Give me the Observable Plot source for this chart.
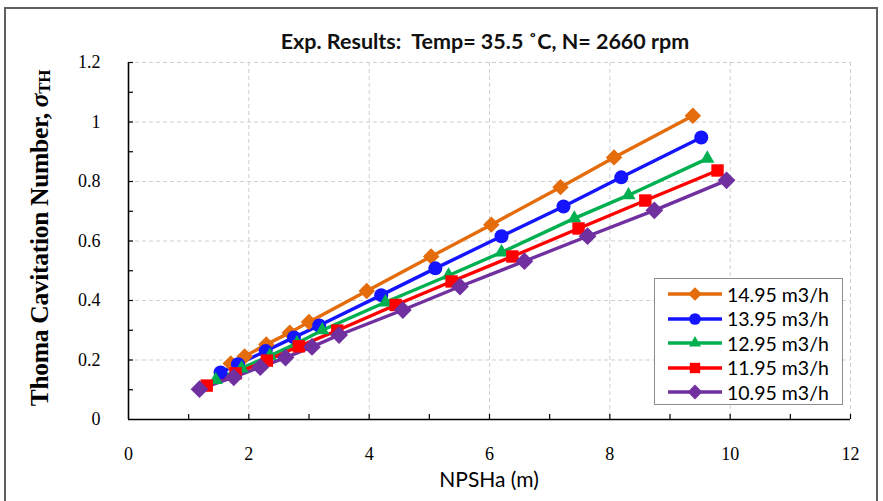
<!DOCTYPE html>
<html>
<head>
<meta charset="utf-8">
<script src="https://cdn.jsdelivr.net/npm/d3@7"></script>
<script src="https://cdn.jsdelivr.net/npm/@observablehq/plot@0.6"></script>
<style>
  body { margin: 0; background: #fff; }
  #wrap { position: relative; width: 883px; height: 501px; overflow: hidden; background: #fff; }
  #frame { position: absolute; left: 4px; top: 7px; width: 874px; height: 600px; border: 2px solid #5f5f5f; box-sizing: border-box; }
  #chart { position: absolute; left: 0; top: 0; }
  #title { position: absolute; left: 235px; width: 500px; top: 28px; text-align: center; font-family: Lato, sans-serif; font-size: 21.5px; font-weight: bold; color: #111; white-space: pre; letter-spacing: 0px; }
  #xlabel { position: absolute; left: 389px; width: 200px; top: 466px; text-align: center; font-family: Lato, sans-serif; font-size: 21px; color: #000; }
  #ylabel { position: absolute; left: -160px; top: 222px; width: 400px; height: 32px; line-height: 32px; text-align: center; transform: rotate(-90deg); font-family: "Liberation Serif", serif; font-weight: bold; font-size: 25.5px; color: #000; white-space: nowrap; letter-spacing: -0.3px; }
  #ylabel .sig { font-style: italic; }
  #ylabel .sub { font-size: 17px; position: relative; top: 2px; }
  #legend { position: absolute; left: 654px; top: 278px; width: 189px; height: 127px; border: 1px solid #8c8c8c; background: #fff; box-sizing: border-box; padding-top: 3px; }
  .row { display: flex; align-items: center; height: 24.5px; padding-left: 12px; }
  .row svg { display: block; }
  .row span { font-family: Lato, sans-serif; font-size: 19.5px; color: #000; margin-left: 4px; }
</style>
</head>
<body>
<div id="wrap">
  <div id="frame"></div>
  <div id="chart"></div>
  <div id="title">Exp. Results:  Temp= 35.5 ˚C, N= 2660 rpm</div>
  <div id="xlabel">NPSHa (m)</div>
  <div id="ylabel">Thoma Cavitation Number, <span class="sig">σ</span><span class="sub">TH</span></div>
  <div id="legend"></div>
</div>
<script>
// ---- data ----
const seriesNames = ["14.95 m3/h", "13.95 m3/h", "12.95 m3/h", "11.95 m3/h", "10.95 m3/h"];
const seriesColors = ["#E46C0A", "#1414FF", "#00B050", "#FF0000", "#7030A0"];
const seriesSymbols = ["diamond2", "circle", "triangle2", "square2", "diamond2"];
const seriesSizes = [7.4, 7.0, 6.8, 7.9, 8.0];

const npsh_1495 = [1.70, 1.93, 2.29, 2.68, 3.00, 3.96, 5.03, 6.03, 7.18, 8.07, 9.38];
const sigma_1495 = [0.188, 0.212, 0.252, 0.292, 0.328, 0.432, 0.548, 0.655, 0.781, 0.881, 1.021];
const npsh_1395 = [1.53, 1.82, 2.28, 2.75, 3.17, 4.20, 5.10, 6.20, 7.23, 8.19, 9.52];
const sigma_1395 = [0.158, 0.186, 0.230, 0.276, 0.316, 0.418, 0.508, 0.616, 0.716, 0.814, 0.948];
const npsh_1295 = [1.45, 1.88, 2.35, 2.80, 3.22, 4.27, 5.32, 6.20, 7.41, 8.31, 9.62];
const sigma_1295 = [0.133, 0.172, 0.214, 0.256, 0.300, 0.394, 0.484, 0.562, 0.676, 0.754, 0.877];
const npsh_1195 = [1.30, 1.78, 2.30, 2.83, 3.47, 4.44, 5.37, 6.38, 7.48, 8.59, 9.79];
const sigma_1195 = [0.114, 0.155, 0.198, 0.246, 0.299, 0.385, 0.464, 0.548, 0.642, 0.736, 0.837];
const npsh_1095 = [1.18, 1.75, 2.19, 2.61, 3.05, 3.50, 4.56, 5.51, 6.58, 7.63, 8.74, 9.94];
const sigma_1095 = [0.102, 0.142, 0.176, 0.208, 0.244, 0.284, 0.368, 0.447, 0.532, 0.616, 0.703, 0.804];

const xTicks = [0, 2, 4, 6, 8, 10, 12];
const yTicks = [0, 0.2, 0.4, 0.6, 0.8, 1, 1.2];
const xMinorTicks = [1, 2, 3, 4, 5, 6, 7, 8, 9, 10, 11, 12];
const yMinorTicks = [0.1, 0.2, 0.3, 0.4, 0.5, 0.6, 0.7, 0.8, 0.9, 1.0, 1.1, 1.2];

// ---- build table ----
const xs = [npsh_1495, npsh_1395, npsh_1295, npsh_1195, npsh_1095];
const ys = [sigma_1495, sigma_1395, sigma_1295, sigma_1195, sigma_1095];
const series = seriesNames.map((name, i) => ({
  name, color: seriesColors[i], symbol: seriesSymbols[i], r: seriesSizes[i],
  data: xs[i].map((x, j) => ({x, y: ys[i][j], s: name}))
}));

const W = 883, H = 501, ML = 128, MR = 33, MT = 62, MB = 82;
const innerW = W - ML - MR, innerH = H - MT - MB;

const marks = [
  Plot.gridX(xTicks, {stroke: "#cfcfcf", strokeOpacity: 1, strokeDasharray: "4,3"}),
  Plot.gridY(yTicks, {stroke: "#cfcfcf", strokeOpacity: 1, strokeDasharray: "4,3"}),
  Plot.axisX(xTicks, {tickSize: 0, tickPadding: 28, label: null, fontSize: 18, tickFormat: d => String(d)}),
  Plot.axisY(yTicks, {tickSize: 0, tickPadding: 28, label: null, fontSize: 18, tickFormat: d => String(d)}),
  Plot.tickX(xMinorTicks, {x: d => d, stroke: "#000", strokeWidth: 1.2, insetTop: innerH - 5}),
  Plot.tickY(yMinorTicks, {y: d => d, stroke: "#000", strokeWidth: 1.2, insetRight: innerW - 5}),
  Plot.ruleX([0], {stroke: "#000", strokeWidth: 1.6}),
  Plot.ruleY([0], {stroke: "#000", strokeWidth: 1.6})
];
for (const s of series) {
  marks.push(Plot.line(s.data, {x: "x", y: "y", stroke: s.color, strokeWidth: 3.4}));
}
for (const s of series) {
  marks.push(Plot.dot(s.data, {x: "x", y: "y", fill: s.color, stroke: "none", symbol: s.symbol, r: s.r}));
}

const chart = Plot.plot({
  width: W, height: H,
  marginLeft: ML, marginRight: MR, marginTop: MT, marginBottom: MB,
  x: {domain: [0, 12]},
  y: {domain: [0, 1.2]},
  style: {fontFamily: "'Liberation Serif', serif", fontSize: "18px", color: "#000", background: "transparent", overflow: "visible"},
  marks
});
document.getElementById("chart").appendChild(chart);

// ---- legend ----
const legend = document.getElementById("legend");
const symMap = {diamond2: d3.symbolDiamond2, circle: d3.symbolCircle, triangle2: d3.symbolTriangle2, square2: d3.symbolSquare2};
for (const s of series) {
  const row = document.createElement("div");
  row.className = "row";
  const svg = d3.create("svg").attr("width", 56).attr("height", 18);
  svg.append("line").attr("x1", 1).attr("x2", 55).attr("y1", 9).attr("y2", 9)
    .attr("stroke", s.color).attr("stroke-width", 3.4);
  const size = Math.PI * s.r * s.r * 0.7;
  svg.append("path").attr("d", d3.symbol(symMap[s.symbol], size)()).attr("transform", "translate(28,9)").attr("fill", s.color);
  row.appendChild(svg.node());
  const t = document.createElement("span");
  t.textContent = s.name;
  row.appendChild(t);
  legend.appendChild(row);
}
</script>
</body>
</html>
